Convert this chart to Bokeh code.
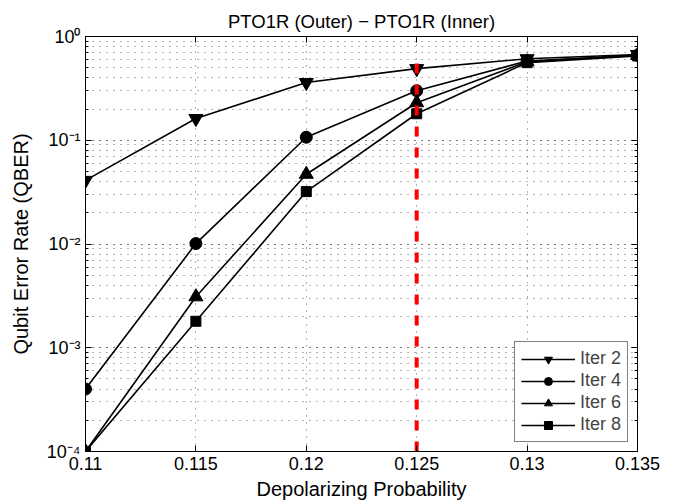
from bokeh.plotting import figure
from bokeh.models import FixedTicker, LogTicker, LinearAxis, LogAxis, Range1d
from bokeh.embed import file_html
from bokeh.resources import INLINE

# ---- data ----
depol = [0.11, 0.115, 0.12, 0.125, 0.13, 0.135]
iter2 = [0.041, 0.162, 0.36, 0.49, 0.61, 0.67]
iter4 = [4.0e-4, 0.0101, 0.107, 0.30, 0.58, 0.66]
iter6 = [1.0e-4, 3.1e-3, 0.047, 0.23, 0.57, 0.66]
iter8 = [1.0e-4, 1.8e-3, 0.032, 0.18, 0.56, 0.65]
threshold_x = [0.125, 0.125]
threshold_y = [1e-4, 0.70]

x_ticks = [0.11, 0.115, 0.12, 0.125, 0.13, 0.135]
x_tick_labels = ["0.11", "0.115", "0.12", "0.125", "0.13", "0.135"]
y_ticks = [1e-4, 1e-3, 1e-2, 1e-1, 1.0]
y_tick_labels = ["10\u207b\u2074", "10\u207b\u00b3", "10\u207b\u00b2", "10\u207b\u00b9", "10\u2070"]

series = [
    ("Iter 2", iter2, "inverted_triangle", 14),
    ("Iter 4", iter4, "circle", 12),
    ("Iter 6", iter6, "triangle", 14),
    ("Iter 8", iter8, "square", 10),
]

FONT = "Liberation Sans"

p = figure(width=675, height=504, y_axis_type="log",
           x_range=Range1d(0.11, 0.135), y_range=Range1d(1e-4, 1.0),
           output_backend="svg", toolbar_location=None,
           min_border_left=85, min_border_right=38,
           min_border_top=36, min_border_bottom=53,
           title="PTO1R (Outer) \u2212 PTO1R (Inner)")

p.title.align = "center"
p.title.text_font = FONT
p.title.text_font_size = "18.5px"
p.title.text_font_style = "normal"
p.title.text_color = "black"
p.title.offset = 4

p.outline_line_color = "black"
p.outline_line_width = 1
p.background_fill_color = "white"
p.border_fill_color = "white"

# axes
xa = p.xaxis[0]
xa.ticker = FixedTicker(ticks=x_ticks, minor_ticks=[])
xa.major_label_overrides = {t: l for t, l in zip(x_ticks, x_tick_labels)}
xa.axis_label = "Depolarizing Probability"

ya = p.yaxis[0]
ya.ticker = LogTicker(num_minor_ticks=10)
ya.major_label_overrides = {t: l for t, l in zip(y_ticks, y_tick_labels)}
ya.axis_label = "Qubit Error Rate (QBER)"

for ax in (xa, ya):
    ax.axis_label_text_font = FONT
    ax.axis_label_text_font_size = "20px"
    ax.axis_label_text_font_style = "normal"
    ax.axis_label_text_color = "black"
    ax.major_label_text_font = FONT
    ax.major_label_text_font_size = "18px"
    ax.major_label_text_color = "black"
    ax.major_tick_in = 6
    ax.major_tick_out = 0
    ax.minor_tick_in = 3
    ax.minor_tick_out = 0
    ax.axis_line_color = "black"
    ax.major_tick_line_color = "black"
    ax.minor_tick_line_color = "black"
xa.axis_label_standoff = 5
xa.major_label_standoff = 5
ya.axis_label_standoff = 12
ya.major_label_standoff = 5

top = LinearAxis(ticker=FixedTicker(ticks=x_ticks, minor_ticks=[]),
                 major_label_text_font_size="1px", major_label_text_alpha=0,
                 major_label_standoff=0,
                 major_tick_in=6, major_tick_out=0, minor_tick_in=0, minor_tick_out=0,
                 axis_line_color="black")
p.add_layout(top, "above")
right = LogAxis(ticker=LogTicker(num_minor_ticks=10),
                major_label_text_font_size="1px", major_label_text_alpha=0,
                major_label_standoff=0,
                major_tick_in=6, major_tick_out=0, minor_tick_in=3, minor_tick_out=0,
                axis_line_color="black")
p.add_layout(right, "right")

# grid
p.xgrid.ticker = FixedTicker(ticks=x_ticks)
p.xgrid.grid_line_color = "#666666"
p.xgrid.grid_line_dash = "1 6"
p.ygrid.grid_line_color = "#666666"
p.ygrid.grid_line_dash = "1 6"
p.ygrid.minor_grid_line_color = "#666666"
p.ygrid.minor_grid_line_dash = "1 6"

for label, ys, marker, size in series:
    p.line(depol, ys, line_color="black", line_width=1.6, legend_label=label)
    p.scatter(depol, ys, marker=marker, size=size, fill_color="black",
              line_color="black", legend_label=label)

p.line(threshold_x, threshold_y, line_color="#ff0000", line_width=4, line_dash="10 11")

lg = p.legend[0]
lg.location = "bottom_right"
lg.margin = 9
lg.border_line_color = "black"
lg.border_line_width = 1
lg.background_fill_alpha = 1
lg.label_text_font = FONT
lg.label_text_font_size = "18px"
lg.glyph_width = 54
lg.glyph_height = 20
lg.label_standoff = 5
lg.spacing = 1
lg.padding = 6
lg.label_height = 20

open("out.html", "w").write(file_html(p, INLINE))
